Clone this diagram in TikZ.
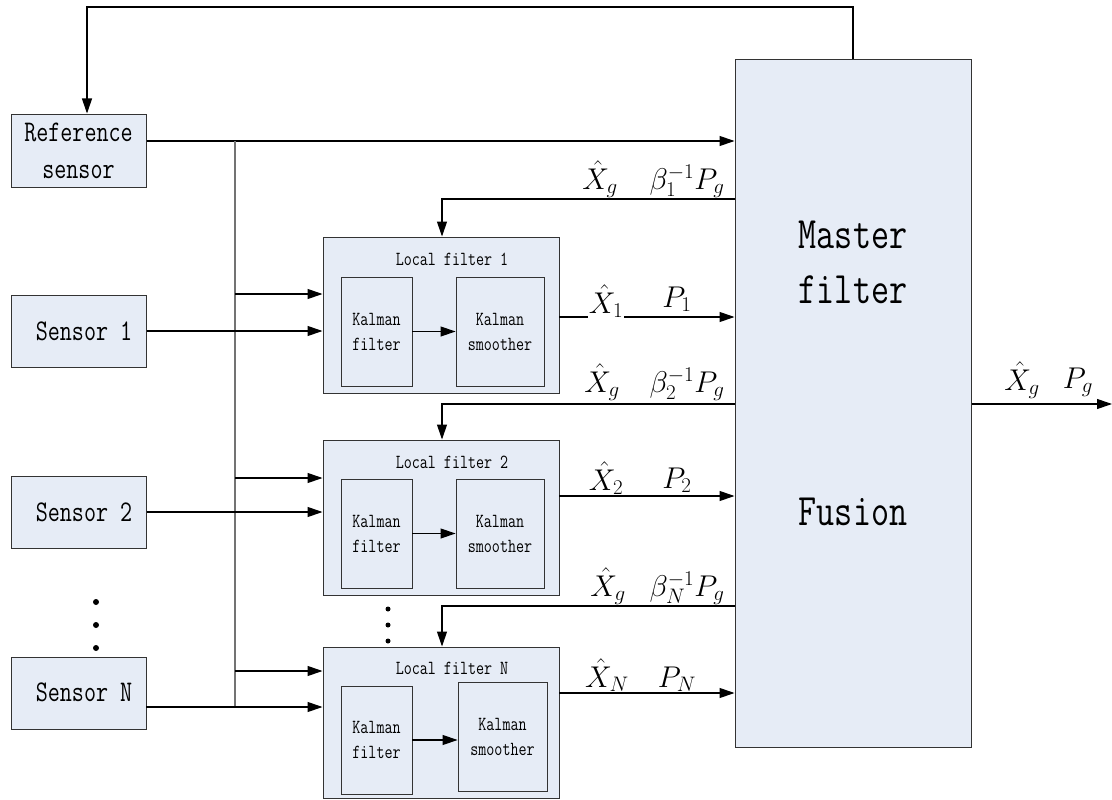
\RequirePackage{fix-cm}
\documentclass[tikz,border=0pt]{standalone}
\usepackage{fontspec}
\setmonofont[FakeStretch=0.78]{Latin Modern Mono}
\usetikzlibrary{arrows.meta}
\definecolor{boxfill}{RGB}{230,236,246}
\begin{document}
\begin{tikzpicture}[x=1pt,y=-1pt,
  blk/.style={draw=black!80, line width=1pt, fill=boxfill, inner sep=0pt, align=center},
  inblk/.style={draw=black!80, line width=0.9pt, fill=boxfill, inner sep=0pt, align=center,
     font=\ttfamily\fontsize{20}{25}\selectfont},
  conn/.style={draw=black, line width=1.1pt},
  bus/.style={draw=black!55, line width=1.1pt},
  arr/.style={conn, -{Triangle[length=15pt,width=10pt]}},
  sfont/.style={font=\ttfamily\fontsize{30}{37}\selectfont},
  tfont/.style={font=\ttfamily\fontsize{20}{24}\selectfont},
  mfont/.style={font=\ttfamily\fontsize{45}{55}\selectfont},
  lab/.style={anchor=base, inner sep=0.5pt, font=\fontsize{30}{34}\selectfont},
  labw/.style={lab, fill=white},
  dot/.style={circle, fill=black, inner sep=0pt, minimum size=6pt}
]
\useasboundingbox (0,0) rectangle (1112,800);

% sensors
\node[blk, sfont, minimum width=135pt, minimum height=73pt] (ref) at (78.5,150.5) {Reference\\sensor};
\node[blk, minimum width=135pt, minimum height=72pt] (s1) at (78.5,331) {};
\node[sfont] (s1t) at (84,331) {Sensor 1};
\node[blk, minimum width=135pt, minimum height=72pt] (s2) at (78.5,512) {};
\node[sfont] (s2t) at (84,512) {Sensor 2};
\node[blk, minimum width=135pt, minimum height=72pt] (sN) at (78.5,693) {};
\node[sfont] (sNt) at (84,692) {Sensor N};

\node[dot] (d1) at (96,602) {};
\node[dot] (d2) at (96,625) {};
\node[dot] (d3) at (96,648) {};

% master filter
\node[blk, minimum width=236pt, minimum height=687pt] (master) at (853,403.5) {};
\node[mfont, align=center] (mt) at (853,262) {Master\\filter};
\node[mfont] (ft) at (853,512) {Fusion};

% local filters
\node[blk, minimum width=236pt, minimum height=156pt] (lf1) at (441,315) {};
\node[tfont] (lf1t) at (452,259) {Local filter 1};
\node[inblk, minimum width=71pt, minimum height=109pt] (kf1) at (376.5,331.5) {Kalman\\filter};
\node[inblk, minimum width=88pt, minimum height=109pt] (ks1) at (500,331.5) {Kalman\\smoother};

\node[blk, minimum width=236pt, minimum height=155pt] (lf2) at (441,517.5) {};
\node[tfont] (lf2t) at (452,462) {Local filter 2};
\node[inblk, minimum width=71pt, minimum height=109pt] (kf2) at (376.5,533.5) {Kalman\\filter};
\node[inblk, minimum width=88pt, minimum height=109pt] (ks2) at (500,533.5) {Kalman\\smoother};

\node[blk, minimum width=236pt, minimum height=151pt] (lfN) at (441,722.5) {};
\node[tfont] (lfNt) at (452,668) {Local filter N};
\node[inblk, minimum width=71pt, minimum height=108pt] (kfN) at (376.5,740) {Kalman\\filter};
\node[inblk, minimum width=89pt, minimum height=109pt] (ksN) at (502.5,736.5) {Kalman\\smoother};

\node[dot, minimum size=5pt] (e1) at (388,609) {};
\node[dot, minimum size=5pt] (e2) at (388,625) {};
\node[dot, minimum size=5pt] (e3) at (388,641) {};

% inner arrows
\draw[arr] (kf1.east) -- (kf1.east -| ks1.west);
\draw[arr] (kf2.east) -- (kf2.east -| ks2.west);
\draw[arr] (kfN.east) -- (kfN.east -| ksN.west);

% reference sensor to master, and bus
\coordinate (busT) at (235,141);
\coordinate (busB) at (235,707);
\draw[arr] (ref.east |- busT) -- (busT -| master.west);
\draw[bus] (busT) -- (busB);
\coordinate (b1) at (235,294);
\coordinate (b2) at (235,478);
\coordinate (bN) at (235,671);
\draw[arr] (b1) -- (b1 -| lf1.west);
\draw[arr] (b2) -- (b2 -| lf2.west);
\draw[arr] (bN) -- (bN -| lfN.west);

% sensor lines
\draw[arr] (s1.east) -- (s1.east -| lf1.west);
\draw[arr] (s2.east) -- (s2.east -| lf2.west);
\coordinate (sNo) at (146,707);
\draw[arr] (sNo) -- (sNo -| lfN.west);

% top feedback
\coordinate (tf1) at (853,7);
\coordinate (tf2) at (87,7);
\draw[arr] (master.north -| tf1) -- (tf1) -- (tf2) -- (tf2 |- ref.north);

% feedback to local filters
\coordinate (f1) at (442,199);
\coordinate (f2) at (442,404);
\coordinate (fN) at (442,606);
\draw[arr] (f1 -| master.west) -- (f1) -- (f1 |- lf1.north);
\draw[arr] (f2 -| master.west) -- (f2) -- (f2 |- lf2.north);
\draw[arr] (fN -| master.west) -- (fN) -- (fN |- lfN.north);

% local filter outputs
\coordinate (o1) at (559,317);
\coordinate (o2) at (559,496);
\coordinate (oN) at (559,693);
\draw[arr] (o1) -- (o1 -| master.west);
\draw[arr] (o2) -- (o2 -| master.west);
\draw[arr] (oN) -- (oN -| master.west);

% master output
\coordinate (mo) at (1112,404);
\draw[arr] (mo -| master.east) -- (mo);

% labels
\node[lab] (g1x) at (600,189) {$\hat{X}_g$};
\node[lab] (g1p) at (687,189) {$\beta_1^{-1}P_g$};
\node[labw] (x1) at (606,313) {$\hat{X}_1$};
\node[lab] (p1) at (677,307) {$P_1$};

\node[lab] (g2x) at (602,392) {$\hat{X}_g$};
\node[lab] (g2p) at (687,392) {$\beta_2^{-1}P_g$};
\node[lab] (x2) at (606,490) {$\hat{X}_2$};
\node[lab] (p2) at (677,488) {$P_2$};

\node[lab] (gNx) at (608,596) {$\hat{X}_g$};
\node[lab] (gNp) at (687,596) {$\beta_N^{-1}P_g$};
\node[labw] (xN) at (607,687) {$\hat{X}_N$};
\node[labw] (pN) at (677,687) {$P_N$};

\node[lab] (ox) at (1022,390) {$\hat{X}_g$};
\node[lab] (op) at (1078,388) {$P_g$};
\end{tikzpicture}
\end{document}
